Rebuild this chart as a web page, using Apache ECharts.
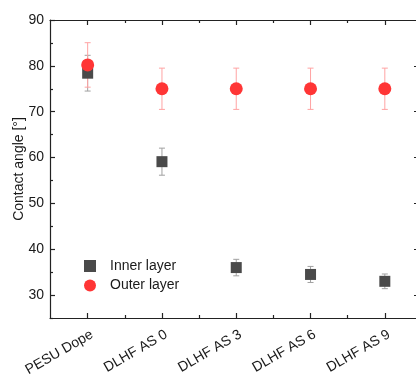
<!DOCTYPE html>
<html>
<head>
<meta charset="utf-8">
<script src="https://cdn.jsdelivr.net/npm/echarts@6/dist/echarts.min.js"></script>
<style>
  html, body { margin: 0; padding: 0; background: #fff; }
  #chart { width: 416px; height: 376px; }
</style>
</head>
<body>
<div id="chart"></div>
<script>
var categories = ["PESU Dope", "DLHF AS 0", "DLHF AS 3", "DLHF AS 6", "DLHF AS 9"];
var innerMean = [78.4, 59.1, 36.0, 34.5, 33.0];
var innerErr = [3.9, 2.95, 1.8, 1.75, 1.6];
var outerMean = [80.2, 75.0, 75.0, 75.0, 75.0];
var outerErr = [4.85, 4.5, 4.5, 4.5, 4.5];
var yMajor = [30, 40, 50, 60, 70, 80, 90];
var yMinor = [25, 35, 45, 55, 65, 75, 85];
var xMajor = [0, 1, 2, 3, 4];
var xMinor = [0.5, 1.5, 2.5, 3.5];

var font = "Liberation Sans, Arial, sans-serif";
var axisColor = "#222";

function points(means) {
  return means.map(function (v, i) { return [i, v]; });
}
function bars(means, errs) {
  return means.map(function (v, i) { return [i, v - errs[i], v + errs[i]]; });
}
function errorBar(color) {
  return function (params, api) {
    var x = api.value(0);
    var lo = api.coord([x, api.value(1)]);
    var hi = api.coord([x, api.value(2)]);
    var w = 3;
    var style = { stroke: color, lineWidth: 1 };
    return {
      type: "group",
      children: [
        { type: "line", shape: { x1: hi[0], y1: hi[1], x2: lo[0], y2: lo[1] }, style: style },
        { type: "line", shape: { x1: hi[0] - w, y1: hi[1], x2: hi[0] + w, y2: hi[1] }, style: style },
        { type: "line", shape: { x1: lo[0] - w, y1: lo[1], x2: lo[0] + w, y2: lo[1] }, style: style }
      ]
    };
  };
}

var xBase = { type: "value", min: -0.507, max: 4.46, splitLine: { show: false } };
var yBase = { type: "value", min: 25, max: 90, splitLine: { show: false } };

function xAxis(pos, values, len, showLine, showLabel) {
  return Object.assign({}, xBase, {
    position: pos,
    axisLine: { show: showLine, onZero: false, lineStyle: { color: axisColor, width: 1.2 } },
    axisTick: { show: true, inside: true, length: len, customValues: values, lineStyle: { color: axisColor, width: 1.2 } },
    axisLabel: showLabel ? {
      show: true, customValues: xMajor, rotate: 30, margin: 18, padding: [0, -5, 0, 0],
      fontFamily: font, fontSize: 14, color: "#1a1a1a",
      formatter: function (v) { return categories[Math.round(v)]; }
    } : { show: false }
  });
}
function yAxis(pos, values, len, showLine, showLabel) {
  return Object.assign({}, yBase, {
    position: pos,
    axisLine: { show: showLine, onZero: false, lineStyle: { color: axisColor, width: 1.2 } },
    axisTick: { show: true, inside: true, length: len, customValues: values, lineStyle: { color: axisColor, width: 1.2 } },
    axisLabel: showLabel ? {
      show: true, customValues: yMajor, margin: 6,
      fontFamily: font, fontSize: 14, color: "#1a1a1a"
    } : { show: false }
  });
}

var yMain = yAxis("left", yMajor, 5, true, true);
yMain.name = "Contact angle [°]";
yMain.nameLocation = "middle";
yMain.nameGap = 24;
yMain.nameMoveOverlap = false;
yMain.nameTextStyle = { fontFamily: font, fontSize: 14, color: "#1a1a1a" };

var chart = echarts.init(document.getElementById("chart"));
chart.setOption({
  animation: false,
  grid: { left: 50, right: -3, top: 20, bottom: 58, containLabel: false, outerBoundsMode: "none" },
  legend: {
    data: ["Inner layer", "Outer layer"],
    orient: "vertical",
    left: 84, top: 259, padding: 0,
    itemWidth: 12, itemHeight: 12, itemGap: 5.5,
    textStyle: { fontFamily: font, fontSize: 14, color: "#1a1a1a", padding: [0, 0, 0, 9] }
  },
  xAxis: [
    xAxis("bottom", xMajor, 5, true, true),
    xAxis("bottom", xMinor, 3, false, false),
    xAxis("top", xMajor, 5, true, false),
    xAxis("top", xMinor, 3, false, false)
  ],
  yAxis: [
    yMain,
    yAxis("left", yMinor, 3, false, false),
    yAxis("right", yMajor, 5, true, false),
    yAxis("right", yMinor, 3, false, false)
  ],
  series: [
    {
      type: "custom", name: "inner err", renderItem: errorBar("#a0a0a0"),
      data: bars(innerMean, innerErr), encode: { x: 0, y: [1, 2] }, z: 1, silent: true
    },
    {
      type: "custom", name: "outer err", renderItem: errorBar("#ffa3a3"),
      data: bars(outerMean, outerErr), encode: { x: 0, y: [1, 2] }, z: 2, silent: true
    },
    {
      type: "scatter", name: "Inner layer", symbol: "rect", symbolSize: 11,
      itemStyle: { color: "#4a4a4a", opacity: 1 }, data: points(innerMean), z: 3
    },
    {
      type: "scatter", name: "Outer layer", symbol: "circle", symbolSize: 13,
      itemStyle: { color: "#ff3535", opacity: 1 }, data: points(outerMean), z: 4
    }
  ]
});
</script>
</body>
</html>
